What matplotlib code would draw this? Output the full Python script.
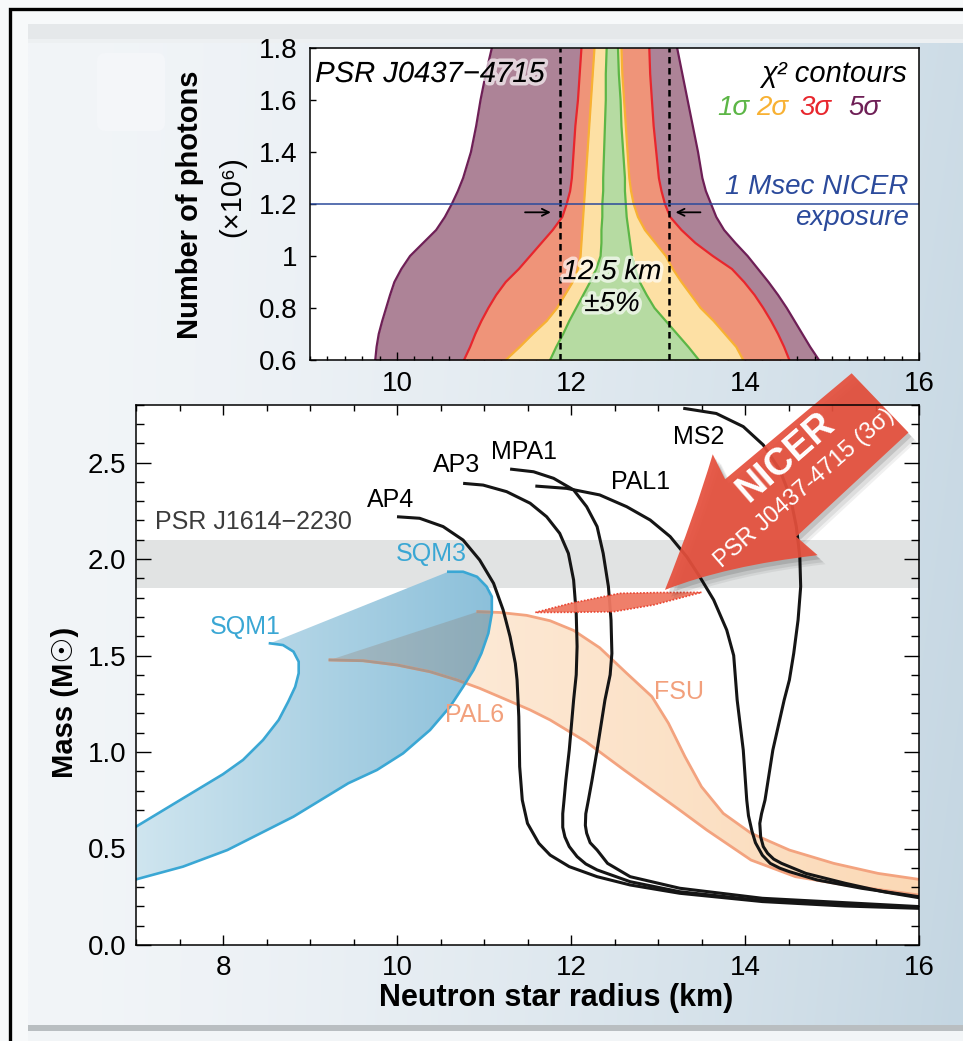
import numpy as np
import matplotlib
matplotlib.use("Agg")
import matplotlib.pyplot as plt
from matplotlib import patheffects
from matplotlib import transforms as mtrans
from matplotlib.colors import LinearSegmentedColormap, to_rgb
from matplotlib.patches import Polygon, PathPatch, FancyBboxPatch, Rectangle
from matplotlib.path import Path
from matplotlib.ticker import MultipleLocator, FormatStrFormatter

plt.rcParams["font.family"] = ["Liberation Sans", "DejaVu Sans"]

# ---------------- top panel: chi^2 contours for PSR J0437-4715 ----------------
photons = [0.6, 0.65, 0.7, 0.75, 0.8, 0.85, 0.9, 0.95, 1.0, 1.05, 1.1, 1.15,
           1.2, 1.25, 1.3, 1.4, 1.5, 1.6, 1.7, 1.8]
sig5_lo = [9.75, 9.765, 9.79, 9.83, 9.875, 9.92, 9.97, 10.05, 10.15, 10.30, 10.45, 10.55,
           10.63, 10.70, 10.76, 10.85, 10.91, 10.96, 11.02, 11.09]
sig5_hi = [14.85, 14.75, 14.66, 14.57, 14.48, 14.38, 14.27, 14.15, 14.03, 13.89, 13.76, 13.67,
           13.61, 13.55, 13.51, 13.46, 13.40, 13.34, 13.28, 13.22]
sig3_lo = [10.77, 10.84, 10.90, 10.97, 11.05, 11.14, 11.25, 11.40, 11.53, 11.66, 11.79, 11.90,
           11.95, 11.99, 12.01, 12.03, 12.05, 12.08, 12.10, 12.12]
sig3_hi = [14.51, 14.45, 14.38, 14.30, 14.21, 14.11, 13.99, 13.85, 13.63, 13.43, 13.27, 13.14,
           13.08, 13.04, 13.01, 12.98, 12.95, 12.93, 12.91, 12.90]
sig2_lo = [11.25, 11.41, 11.56, 11.72, 11.84, 11.93, 12.02, 12.08, 12.11, 12.12, 12.13, 12.14,
           12.15, 12.16, 12.17, 12.19, 12.21, 12.23, 12.25, 12.27]
sig2_hi = [13.98, 13.90, 13.77, 13.64, 13.49, 13.38, 13.27, 13.17, 13.09, 12.97, 12.85, 12.77,
           12.72, 12.69, 12.67, 12.65, 12.63, 12.61, 12.59, 12.58]
sig1_lo = [11.76, 11.83, 11.91, 11.98, 12.06, 12.14, 12.22, 12.29, 12.34, 12.35, 12.35, 12.36,
           12.36, 12.37, 12.37, 12.38, 12.39, 12.40, 12.40, 12.41]
sig1_hi = [13.47, 13.35, 13.22, 13.09, 12.96, 12.87, 12.79, 12.74, 12.70, 12.68, 12.66, 12.64,
           12.63, 12.62, 12.62, 12.60, 12.58, 12.57, 12.55, 12.54]

radius_center = 12.5      # km
radius_frac = 0.05        # +/- 5 %
nicer_exposure = 1.2      # 10^6 photons in 1 Msec

# ---------------- bottom panel: mass-radius relations ----------------
ap4_r = [10.00, 10.26, 10.53, 10.76, 10.95, 11.11, 11.22, 11.30, 11.36, 11.38, 11.40, 11.41,
         11.44, 11.50, 11.63, 11.76, 11.98, 12.30, 12.68, 13.25, 14.20, 15.15, 16.0]
ap4_m = [2.219, 2.211, 2.168, 2.098, 1.995, 1.874, 1.736, 1.597, 1.459, 1.373, 1.183, 0.924,
         0.751, 0.630, 0.527, 0.466, 0.406, 0.354, 0.311, 0.268, 0.225, 0.202, 0.190]
ap3_r = [10.76, 10.99, 11.26, 11.53, 11.72, 11.87, 11.97, 12.03, 12.06, 12.07, 12.06, 12.03,
         11.98, 11.94, 11.92, 11.905, 11.905, 11.93, 11.98, 12.07, 12.17, 12.30, 12.68, 13.25,
         14.20, 16.0]
ap3_m = [2.392, 2.383, 2.349, 2.289, 2.219, 2.133, 2.029, 1.891, 1.718, 1.546, 1.400, 1.269,
         1.010, 0.850, 0.751, 0.680, 0.610, 0.560, 0.510, 0.458, 0.420, 0.389, 0.328, 0.276,
         0.230, 0.195]
mpa1_r = [11.30, 11.57, 11.80, 12.03, 12.18, 12.30, 12.37, 12.43, 12.46, 12.47, 12.45, 12.39,
          12.30, 12.24, 12.20, 12.17, 12.165, 12.18, 12.22, 12.30, 12.42, 12.68, 13.25, 14.20,
          16.0]
mpa1_m = [2.466, 2.452, 2.418, 2.358, 2.271, 2.168, 2.029, 1.857, 1.684, 1.511, 1.400, 1.269,
          1.010, 0.850, 0.751, 0.680, 0.620, 0.579, 0.530, 0.492, 0.423, 0.354, 0.294, 0.242,
          0.199]
pal1_r = [11.59, 11.95, 12.33, 12.64, 12.91, 13.14, 13.33, 13.48, 13.64, 13.79, 13.87, 13.91,
          13.98, 14.02, 14.04, 14.08, 14.12, 14.20, 14.29, 14.40, 14.51, 14.83, 15.34, 16.0]
pal1_m = [2.378, 2.366, 2.332, 2.271, 2.202, 2.116, 2.012, 1.908, 1.788, 1.632, 1.500, 1.269,
          1.010, 0.751, 0.670, 0.590, 0.530, 0.465, 0.423, 0.398, 0.380, 0.337, 0.294, 0.250]
ms2_r = [13.29, 13.67, 13.98, 14.21, 14.40, 14.52, 14.59, 14.63, 14.64, 14.61, 14.56, 14.51,
         14.45, 14.32, 14.23, 14.19, 14.17, 14.18, 14.21, 14.26, 14.33, 14.42, 14.70, 15.15,
         15.59, 16.0]
ms2_m = [2.781, 2.754, 2.686, 2.591, 2.461, 2.323, 2.168, 2.012, 1.857, 1.684, 1.511, 1.373,
         1.269, 1.010, 0.751, 0.680, 0.630, 0.560, 0.510, 0.475, 0.445, 0.423, 0.371, 0.320,
         0.276, 0.245]

sqm1_r = [8.54, 8.69, 8.81, 8.87, 8.87, 8.83, 8.75, 8.64, 8.46, 8.23, 8.00, 7.54, 7.0]
sqm1_m = [1.563, 1.554, 1.520, 1.468, 1.408, 1.338, 1.261, 1.166, 1.062, 0.959, 0.885, 0.760, 0.613]
sqm3_r = [10.59, 10.76, 10.92, 11.03, 11.09, 11.09, 11.05, 10.97, 10.88, 10.76, 10.61, 10.38,
          10.07, 9.77, 9.44, 8.81, 8.05, 7.54, 7.0]
sqm3_m = [1.934, 1.934, 1.908, 1.857, 1.805, 1.718, 1.615, 1.511, 1.425, 1.338, 1.235, 1.114,
          0.993, 0.907, 0.838, 0.665, 0.492, 0.406, 0.340]

pal6_r = [9.23, 9.61, 10.00, 10.38, 10.69, 10.95, 11.22, 11.53, 11.76, 12.17, 12.61, 12.93,
          13.25, 13.56, 14.07, 14.58, 15.15, 16.0]
pal6_m = [1.477, 1.473, 1.451, 1.416, 1.373, 1.330, 1.278, 1.218, 1.166, 1.054, 0.907, 0.803,
          0.699, 0.596, 0.440, 0.354, 0.311, 0.259]
fsu_r = [10.93, 11.18, 11.49, 11.76, 12.03, 12.33, 12.64, 12.93, 13.12, 13.31, 13.50, 13.75,
         14.07, 14.51, 15.02, 15.53, 16.0]
fsu_m = [1.727, 1.723, 1.708, 1.680, 1.630, 1.540, 1.408, 1.287, 1.149, 0.976, 0.820, 0.682,
         0.579, 0.492, 0.423, 0.371, 0.340]

j1614_band = (1.85, 2.10)

nicer_up_r = [11.59, 11.99, 12.56, 13.00, 13.50]
nicer_up_m = [1.723, 1.770, 1.822, 1.826, 1.827]
nicer_lo_r = [11.59, 12.00, 12.49, 12.95, 13.50]
nicer_lo_m = [1.723, 1.724, 1.727, 1.762, 1.827]

# ---------------- figure & backdrop ----------------
W, H = 963, 1041
fig = plt.figure(figsize=(W / 100, H / 100), dpi=100, facecolor="#f7f9fa")

bg = fig.add_axes([0, 0, 1, 1], zorder=-5)
rx = np.linspace(0, 1, 300) ** 1.5
ry = np.linspace(0, 1, 60)[:, None]
c_l = np.array(to_rgb("#f2f5f8"))
c_r = np.array(to_rgb("#c4d6e2"))
t = rx[None, :] * (0.8 + 0.2 * ry)
backdrop = c_l + (c_r - c_l) * t[:, :, None]
bg.imshow(backdrop, extent=[28, W, 1026, 24], aspect="auto", interpolation="bilinear")
bg.add_patch(Rectangle((28, 24), W - 28, 15, color="#e5e8ea", lw=0))
bg.add_patch(Rectangle((28, 39), W - 28, 4, color="#edf0f2", lw=0))
bg.add_patch(FancyBboxPatch((97, 53), 68, 78, boxstyle="round,pad=0,rounding_size=8",
                            fc="#f4f6f9", ec="none"))
bg.add_patch(Rectangle((28, 1025), W - 28, 6, color="#b9bec1", lw=0))
bg.add_patch(Rectangle((28, 1031), W - 28, 10, color="#f2f5f7", lw=0))
bg.plot([10, 10, W], [H, 9, 9], color="black", lw=2.4, solid_joinstyle="miter")
bg.set_xlim(0, W)
bg.set_ylim(H, 0)
bg.axis("off")

halo = [patheffects.withStroke(linewidth=5, foreground="white", alpha=0.65)]

# ---------------- top panel ----------------
ax1 = fig.add_axes([310 / W, 1 - 360 / H, 609 / W, 312 / H])
levels = [
    (sig5_lo, sig5_hi, "#ad8397", "#6e1f56"),
    (sig3_lo, sig3_hi, "#ef9479", "#e8262d"),
    (sig2_lo, sig2_hi, "#fde0a4", "#f8b133"),
    (sig1_lo, sig1_hi, "#b6dba2", "#5cb646"),
]
for k, (lo, hi, fc, ec) in enumerate(levels):
    ax1.fill_betweenx(photons, lo, hi, color=fc, lw=0, zorder=1 + k)
    ax1.plot(lo, photons, color=ec, lw=1.6, zorder=1.5 + k)
    ax1.plot(hi, photons, color=ec, lw=1.6, zorder=1.5 + k)

for xr in (radius_center * (1 - radius_frac), radius_center * (1 + radius_frac)):
    ax1.axvline(xr, color="black", lw=1.8, ls=(0, (2.6, 1.8)), zorder=8)
ax1.axhline(nicer_exposure, color="#2b4a9b", lw=1.1, zorder=9)

arrow_kw = dict(arrowstyle="->,head_length=0.5,head_width=0.25", color="black", lw=1.3)
ax1.annotate("", xy=(11.80, 1.168), xytext=(11.44, 1.168), arrowprops=arrow_kw, zorder=10)
ax1.annotate("", xy=(13.17, 1.168), xytext=(13.52, 1.168), arrowprops=arrow_kw, zorder=10)

ax1.text(9.06, 1.70, "PSR J0437\u22124715", style="italic", fontsize=21, ha="left",
         va="center", zorder=11, path_effects=halo)
ax1.text(15.86, 1.70, "\u03c7\u00b2 contours", style="italic", fontsize=21, ha="right",
         va="center", zorder=11)
for xs, lab, col in zip([13.87, 14.31, 14.81, 15.37], ["1\u03c3", "2\u03c3", "3\u03c3", "5\u03c3"],
                        ["#5cb646", "#f8b133", "#e8262d", "#6e1f56"]):
    ax1.text(xs, 1.57, lab, style="italic", fontsize=20, color=col, ha="center",
             va="center", zorder=11)
ax1.text(15.88, 1.265, "1 Msec NICER", style="italic", fontsize=20, color="#2b4a9b",
         ha="right", va="center", zorder=11)
ax1.text(15.88, 1.146, "exposure", style="italic", fontsize=20, color="#2b4a9b",
         ha="right", va="center", zorder=11)
ax1.text(12.47, 0.938, "12.5 km", style="italic", fontsize=20, ha="center", va="center",
         zorder=11, path_effects=halo)
ax1.text(12.47, 0.815, "\u00b15%", style="italic", fontsize=20, ha="center", va="center",
         zorder=11, path_effects=halo)

ax1.set_xlim(9, 16)
ax1.set_ylim(0.6, 1.8)
ax1.xaxis.set_major_locator(MultipleLocator(2))
ax1.xaxis.set_minor_locator(MultipleLocator(0.2))
ax1.yaxis.set_major_locator(MultipleLocator(0.2))
ax1.yaxis.set_major_formatter(FormatStrFormatter("%g"))
ax1.tick_params(which="both", direction="in", labelsize=20, width=1.0)
ax1.tick_params(axis="x", which="major", length=6, pad=8)
ax1.tick_params(axis="x", which="minor", length=3)
ax1.tick_params(axis="y", which="major", length=4, pad=9)
for s in ax1.spines.values():
    s.set_linewidth(1.1)
    s.set_zorder(12)

fig.text(190 / W, 1 - 205 / H, "Number of photons", rotation=90, fontsize=21,
         fontweight="bold", ha="center", va="center")
fig.text(232 / W, 1 - 197 / H, "(\u00d710\u2076)", rotation=90, fontsize=21,
         ha="center", va="center")

# ---------------- bottom panel ----------------
ax2 = fig.add_axes([136 / W, 1 - 945 / H, 783 / W, 540.4 / H])
ax2.axhspan(*j1614_band, color="#e1e3e3", lw=0, zorder=0.5)


def gradient_patch(ax, verts, c0, c1, x0, x1, zorder):
    patch = Polygon(verts, closed=True, fc="none", ec="none", zorder=zorder)
    ax.add_patch(patch)
    cmap = LinearSegmentedColormap.from_list("g", [c0, c1])
    im = ax.imshow(np.linspace(0, 1, 256)[None, :], cmap=cmap, aspect="auto",
                   extent=[x0, x1, 0, 3], origin="lower", zorder=zorder,
                   interpolation="bilinear")
    im.set_clip_path(patch)
    return patch


orange_verts = list(zip(fsu_r, fsu_m)) + list(zip(pal6_r[::-1], pal6_m[::-1]))
blue_verts = list(zip(sqm3_r, sqm3_m)) + list(zip(sqm1_r[::-1], sqm1_m[::-1]))

gradient_patch(ax2, orange_verts, "#fdeedf", "#fbd9b6", 9.2, 16, 1)
blue_patch = gradient_patch(ax2, blue_verts, "#cfe5ef", "#8cc0da", 7, 11.1, 2)

# darker tint where the two bands overlap
overlap = Polygon(orange_verts, closed=True, fc="#8a6248", alpha=0.22, lw=0, zorder=2.5)
ax2.add_patch(overlap)
overlap.set_clip_path(blue_patch)

for r, m in ((pal6_r, pal6_m), (fsu_r, fsu_m)):
    ax2.plot(r, m, color="#f3a37f", lw=2.0, zorder=3)
    ln, = ax2.plot(r, m, color="#ab978c", lw=2.0, zorder=3.1)
    ln.set_clip_path(blue_patch)

ax2.plot(sqm1_r, sqm1_m, color="#3aa7d4", lw=1.9, zorder=3.5)
ax2.plot(sqm3_r, sqm3_m, color="#3aa7d4", lw=1.9, zorder=3.5)

for r, m in ((ap4_r, ap4_m), (ap3_r, ap3_m), (mpa1_r, mpa1_m), (pal1_r, pal1_m), (ms2_r, ms2_m)):
    ax2.plot(r, m, color="#151515", lw=2.2, zorder=4, solid_capstyle="butt",
             solid_joinstyle="round")

nicer_verts = list(zip(nicer_up_r, nicer_up_m)) + list(zip(nicer_lo_r[::-1], nicer_lo_m[::-1]))
ax2.add_patch(Polygon(nicer_verts, closed=True, fc="#ef7862", ec="#e8412d", lw=1.2,
                      ls=(0, (1, 1)), alpha=0.95, zorder=5))

# NICER arrow, shape in pixels, rotated and pinned to its tip in data space
arrow_tip = (13.08, 1.84)
arrow_tr = (mtrans.Affine2D().rotate_deg(41)
            + mtrans.ScaledTranslation(arrow_tip[0], arrow_tip[1], ax2.transData))
arrow_path = Path(
    [(0, 0), (70, 36), (125, 71), (118, 44), (283, 41), (287, -41), (134, -46), (138, -74),
     (62, -22), (0, 0), (0, 0)],
    [Path.MOVETO, Path.CURVE3, Path.CURVE3, Path.LINETO, Path.LINETO, Path.LINETO,
     Path.LINETO, Path.LINETO, Path.CURVE3, Path.CURVE3, Path.CLOSEPOLY])
for dx, dy, a in ((8, -9, 0.06), (6, -7, 0.08), (3, -4, 0.12)):
    ax2.add_patch(PathPatch(arrow_path, fc="black", ec="none", alpha=a, zorder=5.5,
                            clip_on=False,
                            transform=arrow_tr + mtrans.Affine2D().translate(dx, dy)))
ax2.add_patch(PathPatch(arrow_path, fc="#e5503d", ec="none", alpha=0.93, zorder=6,
                        clip_on=False, transform=arrow_tr))
ax2.text(178, 21, "NICER", transform=arrow_tr, rotation=41, rotation_mode="anchor",
         ha="center", va="center", fontsize=27, fontweight="bold", color="white", zorder=7)
ax2.text(172, -15, "PSR J0437-4715 (3\u03c3)", transform=arrow_tr, rotation=41,
         rotation_mode="anchor", ha="center", va="center", fontsize=17, color="white",
         zorder=7)

lab_kw = dict(fontsize=18, ha="center", va="center", zorder=8)
ax2.text(9.93, 2.306, "AP4", **lab_kw)
ax2.text(10.69, 2.487, "AP3", **lab_kw)
ax2.text(11.46, 2.554, "MPA1", **lab_kw)
ax2.text(12.80, 2.400, "PAL1", **lab_kw)
ax2.text(13.47, 2.630, "MS2", **lab_kw)
ax2.text(10.39, 2.026, "SQM3", color="#3aa7d4", **lab_kw)
ax2.text(8.25, 1.648, "SQM1", color="#3aa7d4", **lab_kw)
ax2.text(10.89, 1.190, "PAL6", color="#f2a07c", **lab_kw)
ax2.text(13.24, 1.310, "FSU", color="#f2a07c", **lab_kw)
ax2.text(7.22, 2.19, "PSR J1614\u22122230", color="#3c3c3c", fontsize=18,
         ha="left", va="center", zorder=8)

ax2.set_xlim(7, 16)
ax2.set_ylim(0, 2.8)
ax2.xaxis.set_major_locator(MultipleLocator(2))
ax2.xaxis.set_minor_locator(MultipleLocator(0.5))
ax2.yaxis.set_major_locator(MultipleLocator(0.5))
ax2.yaxis.set_minor_locator(MultipleLocator(0.1))
ax2.yaxis.set_major_formatter(FormatStrFormatter("%.1f"))
ax2.tick_params(which="both", direction="in", top=True, right=True, labelsize=20, width=1.0)
ax2.tick_params(axis="x", which="major", length=7, pad=7)
ax2.tick_params(axis="x", which="minor", length=4)
ax2.tick_params(axis="y", which="major", length=10.5, pad=7)
ax2.tick_params(axis="y", which="minor", length=5.5)
for s in ax2.spines.values():
    s.set_linewidth(1.1)
    s.set_zorder(9)

fig.text(556 / W, 1 - 998 / H, "Neutron star radius (km)", fontsize=22, fontweight="bold",
         ha="center", va="center")
fig.text(65 / W, 1 - 702 / H, "Mass (M\u2609)", rotation=90, fontsize=21,
         fontweight="bold", ha="center", va="center")

fig.savefig("out.png", dpi=100, facecolor=fig.get_facecolor())
